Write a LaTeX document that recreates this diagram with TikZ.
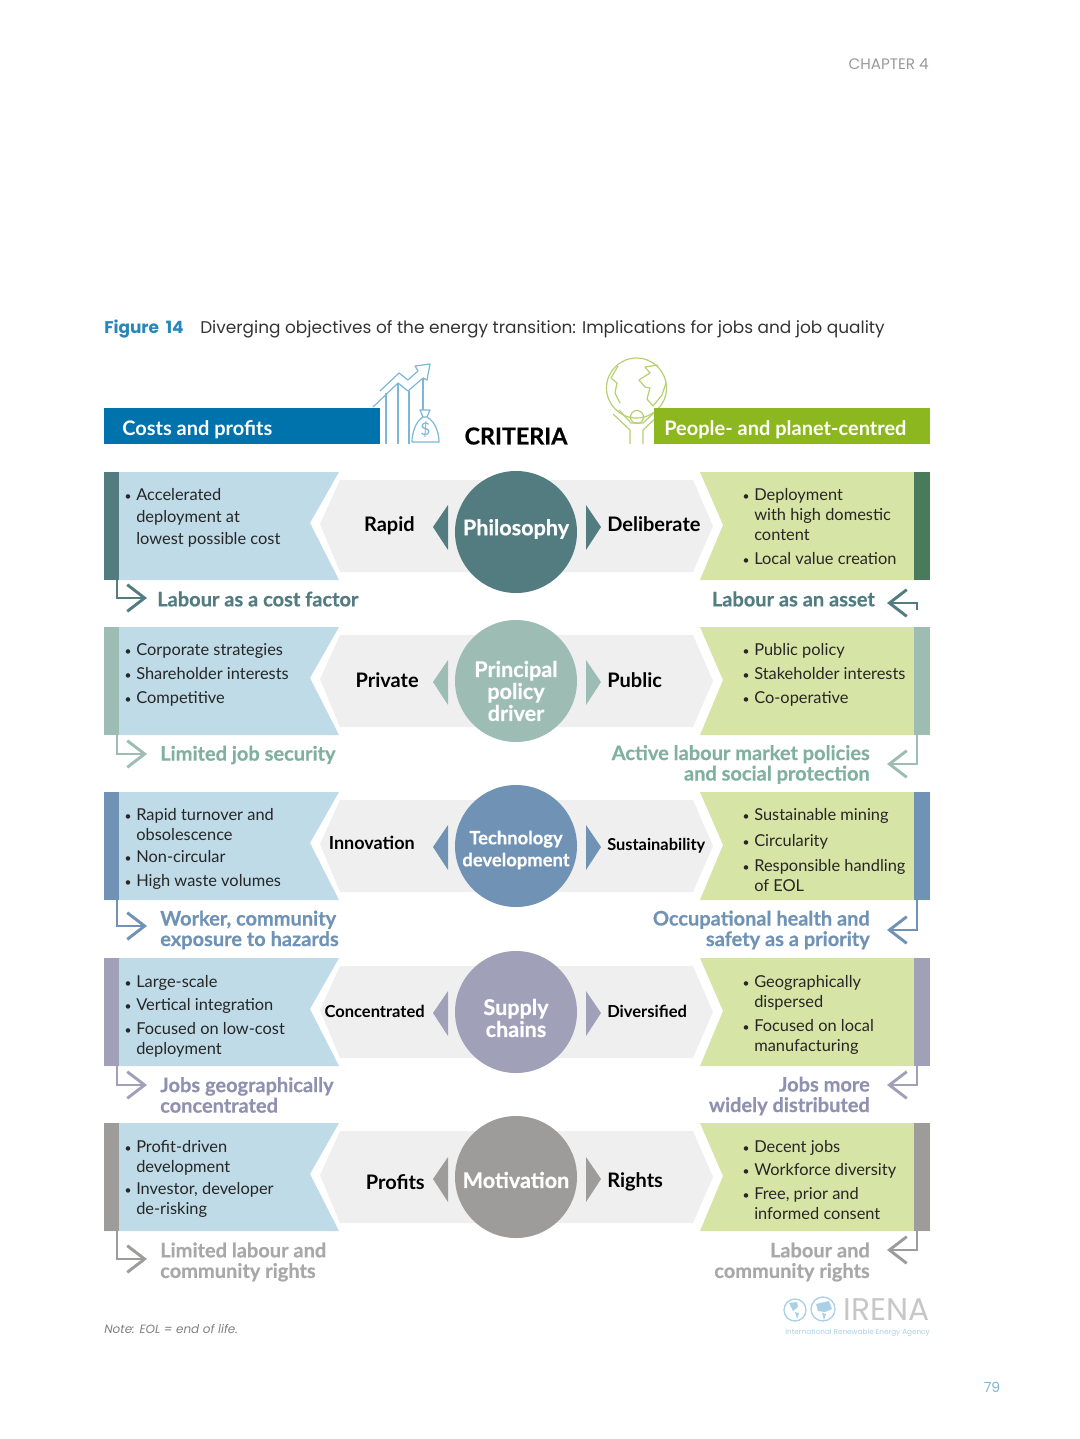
\documentclass[tikz,border=0pt]{standalone}
\usepackage{fontspec}
\setmainfont{Lato}
\newfontfamily\pagefont{Poppins}
\newfontfamily\heavyfont[BoldFeatures={FakeBold=0.5}]{Lato}
\usetikzlibrary{arrows.meta}
\definecolor{costblue}{HTML}{0072AC}
\definecolor{peoplegreen}{HTML}{8CB71F}
\definecolor{leftpanel}{HTML}{BFDBE8}
\definecolor{rightpanel}{HTML}{D6E5A5}
\definecolor{midgrey}{HTML}{EFEFF0}
\definecolor{philteal}{HTML}{527C80}
\definecolor{philgreen}{HTML}{4A7A5C}
\definecolor{policygreen}{HTML}{9DBDB4}
\definecolor{policytext}{HTML}{7FB0A0}
\definecolor{techblue}{HTML}{6F92B5}
\definecolor{supplyviolet}{HTML}{A0A1B9}
\definecolor{supplytext}{HTML}{8F91B1}
\definecolor{motivegrey}{HTML}{9D9C9A}
\definecolor{motivetext}{HTML}{A8A8A8}
\definecolor{iconblue}{HTML}{7DB7D6}
\definecolor{icongreen}{HTML}{B5CF72}
\definecolor{logoblue}{HTML}{A9D0E4}
\newcommand{\bul}{\rule{0pt}{10.75pt}\llap{{\fontsize{9}{9}\selectfont\textbullet}\hspace{3.6pt}}}

\begin{document}
\begin{tikzpicture}[
x=0.75pt, y=-0.75pt,
bar/.style={inner sep=0pt, minimum width=11.5pt, minimum height=81pt},
hub/.style={circle, inner sep=0pt, minimum size=91.5pt},
hubtext/.style={inner sep=0pt, align=center, text=white, font=\heavyfont\fontsize{16.2}{16.5}\selectfont\bfseries},
side/.style={inner sep=0pt, font=\fontsize{15}{18}\selectfont\bfseries},
items/.style={anchor=north west, inner sep=0pt, align=left, text=black!85, font=\fontsize{12.3}{15}\selectfont},
outL/.style={anchor=west, inner sep=0pt, align=left, font=\heavyfont\fontsize{15}{15.4}\selectfont\bfseries},
outR/.style={anchor=east, inner sep=0pt, align=right, font=\heavyfont\fontsize{15}{15.4}\selectfont\bfseries},
arr/.style={-{Straight Barb[length=13pt, width=20pt, line width=2.2pt]}, line width=2.2pt}
]
\useasboundingbox (0,0) rectangle (1080,1439);

% page furniture
\node[anchor=east, inner sep=0pt, text=black!40, font=\pagefont\fontsize{11.4}{13}\selectfont] (chapter) at (929,64) {CHAPTER 4};
\node[anchor=west, inner sep=0pt, text=costblue!85, font=\pagefont\fontsize{12.7}{14}\selectfont\bfseries] (figno) at (104,329) {Figure\hspace{5pt}14};
\node[anchor=west, inner sep=0pt, text=black!80, font=\pagefont\fontsize{12.7}{14}\selectfont] (title) at (200,329) {Diverging objectives of the energy transition: Implications for jobs and job quality};
\node[anchor=west, inner sep=0pt, text=black!50, font=\pagefont\fontsize{9}{11}\selectfont\itshape] (note) at (104,1329) {Note: EOL = end of life.};
\node[anchor=center, inner sep=0pt, text=iconblue, font=\pagefont\fontsize{10.5}{12}\selectfont] (pageno) at (992,1387) {79};

% chart icon
\draw[iconblue, line width=0.9pt, line join=round] (373,407) -- (398,383) -- (408,391) -- (423,378) -- (427,380) -- (430,364) -- (415,366) -- (418,371) -- (408,380) -- (399,373) -- (380,391);
\draw[iconblue, line width=0.9pt] (386,393) -- (386,444) (398,384) -- (398,444) (409,391) -- (409,444) (423,378) -- (423,410);
\draw[iconblue, line width=0.9pt, line join=round] (420,410) -- (430,410) -- (427,417) -- (423,417) -- cycle (423,417) .. controls (415,422) and (412,434) .. (412,442) -- (439,442) .. controls (439,434) and (436,422) .. (427,417);
\node[inner sep=0pt, text=iconblue, font=\fontsize{13}{14}\selectfont] (dollar) at (425.5,429) {\$};

% globe icon
\draw[icongreen, line width=0.9pt] (636.5,388) circle (30);
\draw[icongreen, line width=0.9pt, line join=round] (618,366) -- (611,378) -- (617,383) -- (615,393) -- (620,403);
\draw[icongreen, line width=0.9pt, line join=round] (645,367) -- (650,373) -- (639,380) -- (645,387) -- (650,388) -- (647,399) -- (653,406) -- (662,395) -- (666,383) (645,367) -- (658,365);
\draw[icongreen, line width=0.9pt] (637,417) circle (6.5);
\draw[icongreen, line width=0.9pt, line join=round] (613,414) -- (630,430) -- (630,444) (619,410) -- (631,423) -- (643,423) -- (656,411) (643,444) -- (643,430) -- (660,414);

% headers
\node[anchor=north west, inner sep=0pt, minimum width=207pt, minimum height=27pt, fill=costblue] (costs) at (104,408) {};
\node[anchor=west, inner sep=0pt, text=white, font=\fontsize{15}{16}\selectfont\bfseries] (coststext) at (122,430) {Costs and profits};
\node[anchor=north west, inner sep=0pt, minimum width=207pt, minimum height=27pt, fill=peoplegreen] (people) at (654,408) {};
\node[anchor=west, inner sep=0pt, text=white, font=\fontsize{15}{16}\selectfont\bfseries] (peopletext) at (664,430) {People- and planet-centred};
\node[inner sep=0pt, font=\heavyfont\fontsize{17.5}{18}\selectfont\bfseries] (criteria) at (516,436) {CRITERIA};

% philosophy
\fill[midgrey] (340,480) -- (693,480) -- (713,526) -- (693,572) -- (340,572) -- (320,524) -- cycle;
\fill[leftpanel] (104,472) -- (339,472) -- (310,523) -- (339,580) -- (104,580) -- cycle;
\fill[rightpanel] (700,472) -- (930,472) -- (930,580) -- (700,580) -- (723,525) -- cycle;
\fill[philteal] (448,505) -- (433,527) -- (448,550) -- cycle (586,505) -- (601,527) -- (586,550) -- cycle;
\node[bar, fill=philteal] (barA) at (111.5,526) {};
\node[bar, fill=philgreen] (barF) at (922,526) {};
\node[hub, fill=philteal] (philosophy) at (516,532) {};
\node[hubtext] (philosophytext) at ([yshift=2.25pt]philosophy.center) {Philosophy};
\node[side, anchor=east] (rapid) at (415,526) {Rapid};
\node[side, anchor=west] (deliberate) at (607,524) {Deliberate};
\node[items] (itemsA) at (136,486) {\bul Accelerated\\[1.5pt] deployment at\\[1.5pt] lowest possible cost};
\node[items] (itemsF) at (754,486) {\bul Deployment\\ with high domestic\\ content\\[3pt] \bul Local value creation};
\node[outL, text=philteal] (labourcost) at (157,599) {Labour as a cost factor};
\node[outR, text=philteal] (labourasset) at (875,599) {Labour as an asset};
\coordinate (tipA) at (147,598);
\coordinate (tipF) at (887,603);
\draw[arr, philteal] ([xshift=4.1pt]barA.south) |- (tipA);
\draw[arr, philteal] ([xshift=-3.75pt, yshift=-22.5pt]barF.south) |- (tipF);

% principal policy driver
\fill[midgrey] (340,635) -- (693,635) -- (713,681) -- (693,727) -- (340,727) -- (320,679) -- cycle;
\fill[leftpanel] (104,627) -- (339,627) -- (310,678) -- (339,735) -- (104,735) -- cycle;
\fill[rightpanel] (700,627) -- (930,627) -- (930,735) -- (700,735) -- (723,680) -- cycle;
\fill[policygreen] (448,660) -- (433,682) -- (448,705) -- cycle (586,660) -- (601,682) -- (586,705) -- cycle;
\node[bar, fill=policygreen] (barB) at (111.5,681) {};
\node[bar, fill=policygreen] (barG) at (922,681) {};
\node[hub, fill=policygreen] (policy) at (516,681) {};
\node[hubtext] (policytext) at ([yshift=-7.5pt]policy.center) {Principal\\policy\\driver};
\node[side, anchor=east] (private) at (419,680) {Private};
\node[side, anchor=west] (public) at (607,680) {Public};
\node[items] (itemsB) at (136,641) {\bul Corporate strategies\\[3pt] \bul Shareholder interests\\[3pt] \bul Competitive};
\node[items] (itemsG) at (754,641) {\bul Public policy\\[3pt] \bul Stakeholder interests\\[3pt] \bul Co-operative};
\node[outL, text=policytext] (jobsecurity) at (160,755) {Limited job security};
\node[outR, text=policytext] (activelabour) at (870,764.5) {Active labour market policies\\and social protection};
\coordinate (tipB) at (147,754);
\coordinate (tipG) at (887,764);
\draw[arr, policygreen] ([xshift=4.1pt]barB.south) |- (tipB);
\draw[arr, policygreen] ([xshift=-3.75pt]barG.south) |- (tipG);

% technology development
\fill[midgrey] (340,800) -- (693,800) -- (713,846) -- (693,892) -- (340,892) -- (320,844) -- cycle;
\fill[leftpanel] (104,792) -- (339,792) -- (310,843) -- (339,900) -- (104,900) -- cycle;
\fill[rightpanel] (700,792) -- (930,792) -- (930,900) -- (700,900) -- (723,845) -- cycle;
\fill[techblue] (448,825) -- (433,847) -- (448,870) -- cycle (586,825) -- (601,847) -- (586,870) -- cycle;
\node[bar, fill=techblue] (barC) at (111.5,846) {};
\node[bar, fill=techblue] (barH) at (922,846) {};
\node[hub, fill=techblue] (technology) at (516,846) {};
\node[hubtext, font=\heavyfont\fontsize{13.8}{16.5}\selectfont\bfseries] (technologytext) at ([yshift=-3pt]technology.center) {Technology\\development};
\node[side, anchor=east, font=\fontsize{13.5}{16}\selectfont\bfseries] (innovation) at (415,843) {Innovation};
\node[side, anchor=west, font=\fontsize{12.3}{16}\selectfont\bfseries] (sustainability) at (607,846) {Sustainability};
\node[items] (itemsC) at (136,806) {\bul Rapid turnover and\\ obsolescence\\[1.5pt] \bul Non-circular\\[3pt] \bul High waste volumes};
\node[items] (itemsH) at (754,806) {\bul Sustainable mining\\[4.5pt] \bul Circularity\\[3.75pt] \bul Responsible handling\\ of EOL};
\node[outL, text=techblue] (hazards) at (160,930) {Worker, community\\exposure to hazards};
\node[outR, text=techblue] (occupational) at (870,930) {Occupational health and\\safety as a priority};
\coordinate (tipC) at (147,926);
\coordinate (tipH) at (887,930);
\draw[arr, techblue] ([xshift=4.1pt]barC.south) |- (tipC);
\draw[arr, techblue] ([xshift=-3.75pt]barH.south) |- (tipH);

% supply chains
\fill[midgrey] (340,966) -- (693,966) -- (713,1012) -- (693,1058) -- (340,1058) -- (320,1010) -- cycle;
\fill[leftpanel] (104,958) -- (339,958) -- (310,1009) -- (339,1066) -- (104,1066) -- cycle;
\fill[rightpanel] (700,958) -- (930,958) -- (930,1066) -- (700,1066) -- (723,1011) -- cycle;
\fill[supplyviolet] (448,991) -- (433,1013) -- (448,1036) -- cycle (586,991) -- (601,1013) -- (586,1036) -- cycle;
\node[bar, fill=supplyviolet] (barD) at (111.5,1012) {};
\node[bar, fill=supplyviolet] (barI) at (922,1012) {};
\node[hub, fill=supplyviolet] (supply) at (516,1012) {};
\node[hubtext] (supplytext) at ([yshift=-4.5pt]supply.center) {Supply\\chains};
\node[side, anchor=east, font=\fontsize{12.4}{16}\selectfont\bfseries] (concentrated) at (425,1011) {Concentrated};
\node[side, anchor=west, font=\fontsize{12.4}{16}\selectfont\bfseries] (diversified) at (607,1011) {Diversified};
\node[items] (itemsD) at (136,973) {\bul Large-scale\\[2.25pt] \bul Vertical integration\\[3pt] \bul Focused on low-cost\\ deployment};
\node[items] (itemsI) at (754,973) {\bul Geographically\\ dispersed\\[3pt] \bul Focused on local\\ manufacturing};
\node[outL, text=supplytext] (concentratedjobs) at (160,1095) {Jobs geographically\\concentrated};
\node[outR, text=supplytext] (distributed) at (870,1096) {Jobs more\\widely distributed};
\coordinate (tipD) at (147,1085);
\coordinate (tipI) at (887,1085);
\draw[arr, supplyviolet] ([xshift=4.1pt]barD.south) |- (tipD);
\draw[arr, supplyviolet] ([xshift=-3.75pt]barI.south) |- (tipI);

% motivation
\fill[midgrey] (340,1131) -- (693,1131) -- (713,1177) -- (693,1223) -- (340,1223) -- (320,1175) -- cycle;
\fill[leftpanel] (104,1123) -- (339,1123) -- (310,1174) -- (339,1231) -- (104,1231) -- cycle;
\fill[rightpanel] (700,1123) -- (930,1123) -- (930,1231) -- (700,1231) -- (723,1176) -- cycle;
\fill[motivegrey] (448,1157) -- (433,1179) -- (448,1202) -- cycle (586,1157) -- (601,1179) -- (586,1202) -- cycle;
\node[bar, fill=motivegrey] (barE) at (111.5,1177) {};
\node[bar, fill=motivegrey] (barJ) at (922,1177) {};
\node[hub, fill=motivegrey] (motivation) at (516,1177) {};
\node[hubtext] (motivationtext) at ([yshift=-2.25pt]motivation.center) {Motivation};
\node[side, anchor=east] (profits) at (425,1182) {Profits};
\node[side, anchor=west] (rights) at (607,1182) {Rights};
\node[items] (itemsE) at (136,1138) {\bul Profit-driven\\ development\\[1.5pt] \bul Investor, developer\\ de-risking};
\node[items] (itemsJ) at (754,1138) {\bul Decent jobs\\[2.25pt] \bul Workforce diversity\\[3pt] \bul Free, prior and\\ informed consent};
\node[outL, text=motivetext] (limitedrights) at (160,1262) {Limited labour and\\community rights};
\node[outR, text=motivetext] (communityrights) at (870,1262) {Labour and\\community rights};
\coordinate (tipE) at (147,1259);
\coordinate (tipJ) at (887,1250);
\draw[arr, motivegrey] ([xshift=4.1pt]barE.south) |- (tipE);
\draw[arr, motivegrey] ([xshift=-3.75pt]barJ.south) |- (tipJ);

% logo
\draw[logoblue, line width=1pt] (795,1310) circle (11) (823,1309) circle (12);
\fill[logoblue] (789,1303) -- (797,1302) -- (798,1307) -- (793,1311) -- cycle (795,1312) -- (799,1313) -- (797,1319) -- cycle (816,1304) -- (829,1301) -- (832,1309) -- (825,1312) -- (818,1311) -- cycle (822,1313) -- (826,1314) -- (824,1320) -- cycle;
\node[anchor=east, inner sep=0pt, text=black!22, font=\pagefont\fontsize{23.5}{25}\selectfont] (irena) at (930,1309.5) {IRENA};
\node[anchor=east, inner sep=0pt, text=logoblue, font=\pagefont\fontsize{5.45}{6}\selectfont] (agency) at (930,1332.5) {International Renewable Energy Agency};
\end{tikzpicture}
\end{document}
